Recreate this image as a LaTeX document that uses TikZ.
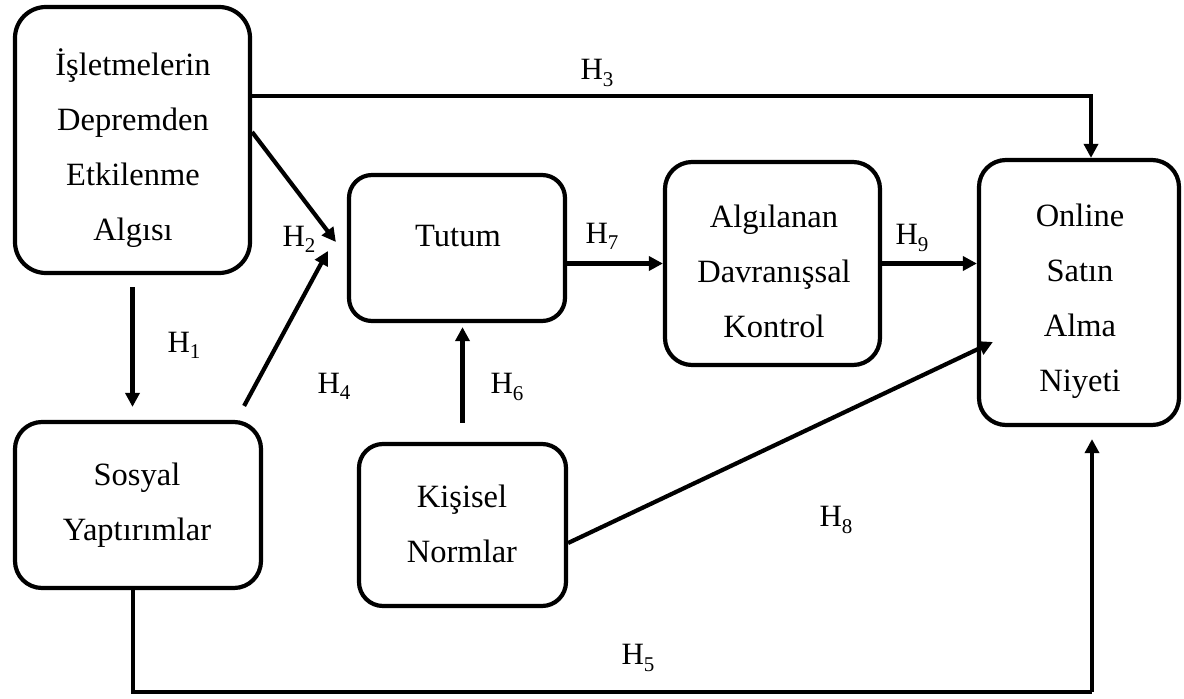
\documentclass[tikz,border=0pt]{standalone}
\usepackage{fontspec}
\setmainfont{Liberation Serif}
\usetikzlibrary{arrows.meta}
\newcommand{\hyp}[1]{H\raisebox{-0.2em}{\fontsize{21}{21}\selectfont #1}}
\begin{document}
\begin{tikzpicture}[x=1pt,y=-1pt,
  box/.style={draw, line width=4.2pt, inner sep=0pt},
  txt/.style={font=\fontsize{32.5}{55}\selectfont, align=center, inner sep=0pt},
  lbl/.style={font=\fontsize{31}{37}\selectfont, inner sep=0pt},
  arr/.style={line width=4.2pt, -{Triangle[length=14pt,width=14pt]}}]
\useasboundingbox (0,0) rectangle (1184,699);
% boxes
\node[box, rounded corners=31pt, minimum width=235pt, minimum height=266pt] (A) at (132.5,140) {};
\node[box, rounded corners=23pt, minimum width=216pt, minimum height=146pt] (T) at (457,248) {};
\node[box, rounded corners=27pt, minimum width=215pt, minimum height=203pt] (P) at (772.5,263.5) {};
\node[box, rounded corners=27pt, minimum width=200pt, minimum height=265pt] (O) at (1079,292.5) {};
\node[box, rounded corners=27pt, minimum width=246pt, minimum height=166pt] (S) at (138,505) {};
\node[box, rounded corners=24pt, minimum width=207pt, minimum height=162pt] (K) at (462.5,525) {};
% texts
\node[txt] (At) at (133,146.5) {\strut İşletmelerin\\\strut Depremden\\\strut Etkilenme\\\strut Algısı};
\node[txt] (Tt) at (458,235) {\strut Tutum};
\node[txt] (Pt) at (774,271.5) {\strut Algılanan\\\strut Davranışsal\\\strut Kontrol};
\node[txt] (Ot) at (1080,297.5) {\strut Online\\\strut Satın\\\strut Alma\\\strut Niyeti};
\node[txt] (St) at (137,501.5) {\strut Sosyal\\\strut Yaptırımlar};
\node[txt] (Kt) at (462,524) {\strut Kişisel\\\strut Normlar};
% connectors
\coordinate (h5) at (1092,692);
\draw[arr] ([yshift=-12pt]A.south) -- ([yshift=13pt]S.north -| A.south);
\draw[arr] ([yshift=8pt]A.east) -- ([xshift=-11pt,yshift=6pt]T.west);
\draw[arr] ([yshift=44pt]A.east) -| ([xshift=12pt]O.north);
\draw[arr] ([xshift=-19pt,yshift=14pt]S.north east) -- ([xshift=-19pt,yshift=-3pt]T.west);
\draw[line width=4.2pt] ([xshift=-5pt]S.south) |- (h5);
\draw[arr] (h5) -- ([xshift=13pt,yshift=-12pt]O.south);
\draw[arr] ([yshift=19pt]K.north) -- ([yshift=-4pt]K.north |- T.south);
\draw[arr] (T.east |- P.west) -- (P.west);
\draw[arr] ([yshift=-18pt]K.east) -- ([xshift=16pt,yshift=-49.5pt]O.west);
\draw[arr] (P.east) -- (P.east -| O.west);
% labels
\node[lbl] (l1) at (184,345) {\hyp{1}};
\node[lbl] (l2) at (299,239) {\hyp{2}};
\node[lbl] (l3) at (597,73) {\hyp{3}};
\node[lbl] (l4) at (334,386) {\hyp{4}};
\node[lbl] (l5) at (638,658) {\hyp{5}};
\node[lbl] (l6) at (507,387) {\hyp{6}};
\node[lbl] (l7) at (602,236) {\hyp{7}};
\node[lbl] (l8) at (836,520) {\hyp{8}};
\node[lbl] (l9) at (912,238) {\hyp{9}};
\end{tikzpicture}
\end{document}
